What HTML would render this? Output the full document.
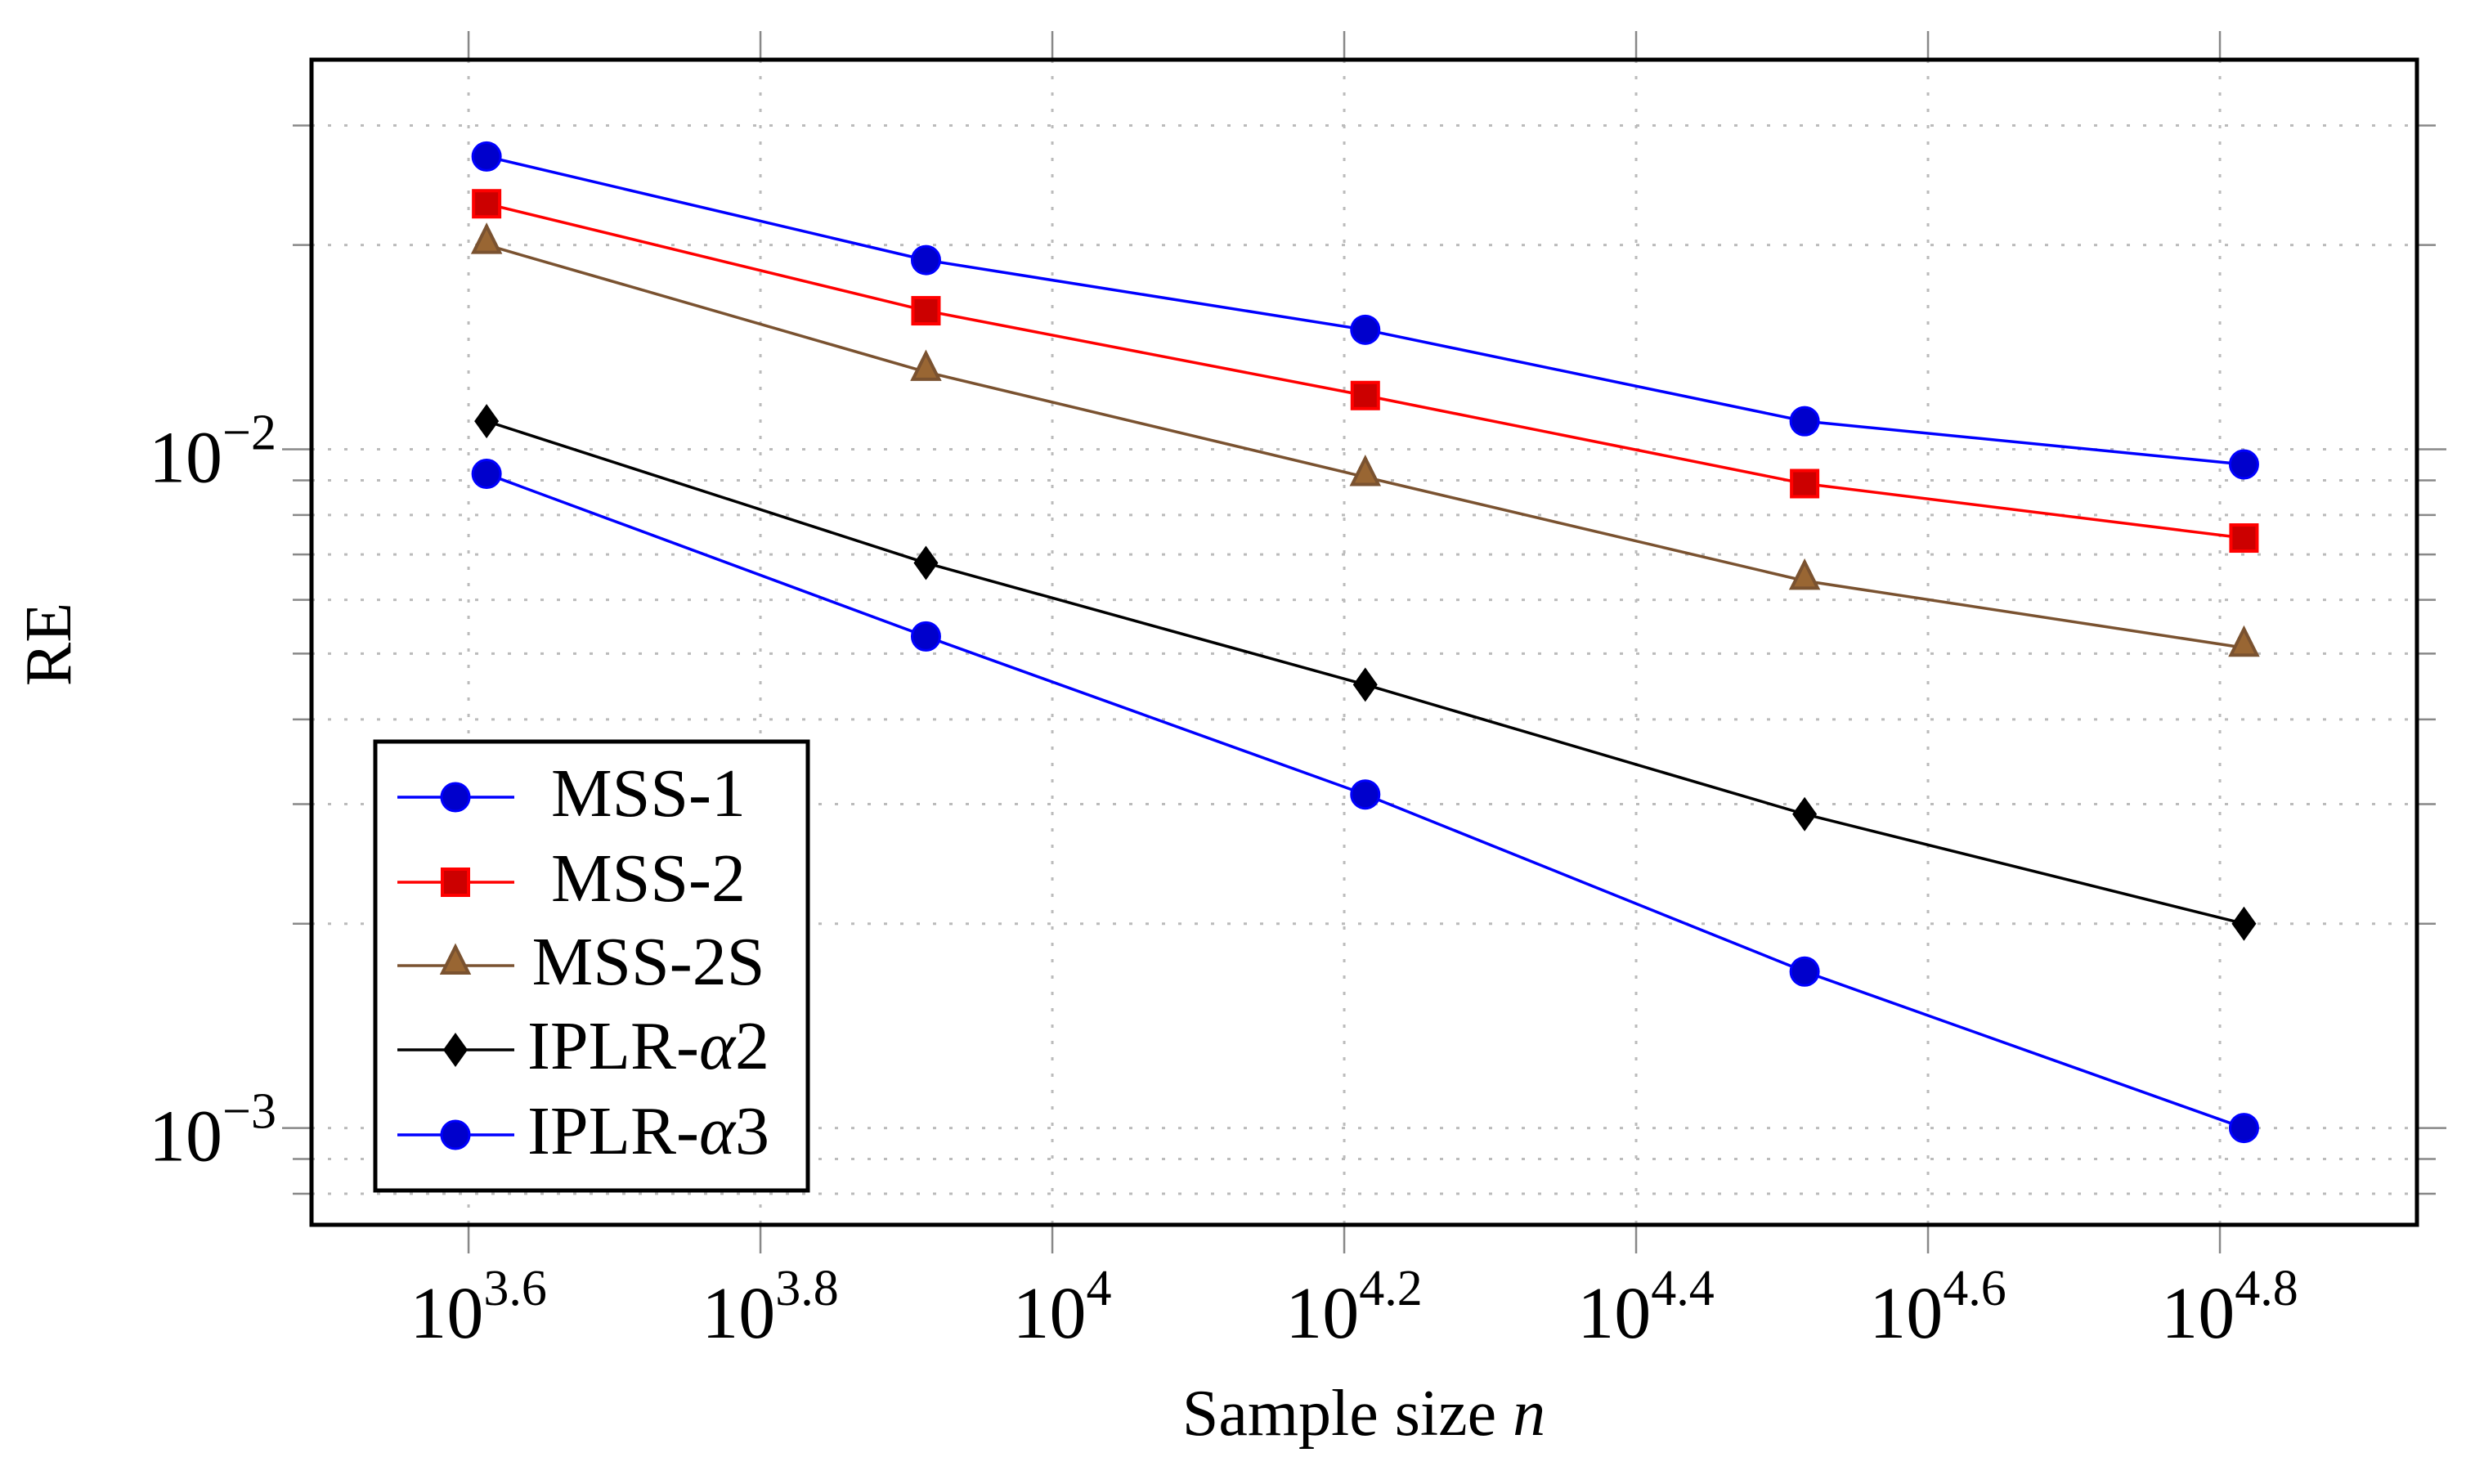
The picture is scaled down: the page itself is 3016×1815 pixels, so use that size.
<!DOCTYPE html>
<html><head><meta charset="utf-8"><style>
html,body{margin:0;padding:0;background:#fff;}
svg{display:block;font-family:"Liberation Serif",serif;}
</style></head><body>
<svg id="chart" width="3016" height="1815" viewBox="0 0 3016 1815" xmlns="http://www.w3.org/2000/svg">
<g id="grid"></g><g id="ticks"></g><g id="series"></g>
<rect x="381" y="73" width="2575" height="1425" fill="none" stroke="#000" stroke-width="5"/>
<g id="labels"></g><g id="legend"></g>
<text x="1668" y="1755" font-size="80" text-anchor="middle">Sample size <tspan font-style="italic">n</tspan></text>
<text x="0" y="0" font-size="80" text-anchor="middle" transform="translate(86,788) rotate(-90)">RE</text>
</svg>
<script>
const sampleSizes = [4096, 8192, 16384, 32768, 65536];
const seriesNames = ["MSS-1", "MSS-2", "MSS-2S", "IPLR-α2", "IPLR-α3"];
const mss1 = [0.027, 0.019, 0.015, 0.011, 0.0095];
const mss2 = [0.023, 0.016, 0.012, 0.0089, 0.0074];
const mss2s = [0.020, 0.013, 0.0091, 0.0064, 0.0051];
const iplr2 = [0.011, 0.0068, 0.0045, 0.0029, 0.0020];
const iplr3 = [0.0092, 0.0053, 0.0031, 0.0017, 0.0010];
const xTickExps = ["3.6", "3.8", "4", "4.2", "4.4", "4.6", "4.8"];
const yTickExps = ["-2", "-3"];

const NS = "http://www.w3.org/2000/svg";
const L=381,R=2956,T=73,B=1498;
const xmin=3.4924,xmax=4.935,ymin=Math.log10(7.2e-4),ymax=Math.log10(0.0375);
const xs=v=>L+(Math.log10(v)-xmin)/(xmax-xmin)*(R-L);
const xe=e=>L+(e-xmin)/(xmax-xmin)*(R-L);
const ys=v=>B-(Math.log10(v)-ymin)/(ymax-ymin)*(B-T);
function mk(tag,attrs,parent){const e=document.createElementNS(NS,tag);for(const k in attrs)e.setAttribute(k,attrs[k]);parent.appendChild(e);return e;}
const grid=document.getElementById('grid'),ticks=document.getElementById('ticks'),labels=document.getElementById('labels');
xTickExps.forEach(s=>{const x=xe(parseFloat(s));
 const g=mk('line',{x1:x,x2:x,y1:T,y2:B,stroke:'#bbb','stroke-width':3,'stroke-dasharray':'4 16'},grid);
 
 
 mk('line',{x1:x,x2:x,y1:T-35,y2:T,stroke:'#888','stroke-width':2.5},ticks);
 mk('line',{x1:x,x2:x,y1:B,y2:B+35,stroke:'#888','stroke-width':2.5},ticks);
 const t=mk('text',{x:x+12,y:1636,'font-size':90,'text-anchor':'middle'},labels);
 
 
 t.textContent='10';const sp=mk('tspan',{dy:-40,'font-size':62},t);sp.textContent=s;
});
for(let d=-4;d<=-1;d++){for(let m=1;m<=9;m++){const v=m*Math.pow(10,d);const y=ys(v);if(y<T+2||y>B-2)continue;
 const g=mk('line',{x1:L,x2:R,y1:y,y2:y,stroke:'#bbb','stroke-width':3,'stroke-dasharray':'4 16'},grid);
 
 
 const len=m===1?36:23;
 mk('line',{x1:L-len,x2:L,y1:y,y2:y,stroke:'#888','stroke-width':2.5},ticks);
 mk('line',{x1:R,x2:R+len,y1:y,y2:y,stroke:'#888','stroke-width':2.5},ticks);
}}
yTickExps.forEach(s=>{const y=ys(Math.pow(10,parseFloat(s)));
 const t=mk('text',{x:338,y:y+40,'font-size':90,'text-anchor':'end'},labels);
 
 
 t.textContent='10';const sp=mk('tspan',{dy:-40,'font-size':62},t);sp.textContent=s.replace('-','−');
});
const styles=[
 {line:'#0000ff',fill:'#0000cc',stroke:'#0000ff',shape:'circle'},
 {line:'#ff0000',fill:'#cc0000',stroke:'#ff0000',shape:'square'},
 {line:'#7a5230',fill:'#996633',stroke:'#7a5230',shape:'triangle'},
 {line:'#000000',fill:'#000000',stroke:'#000000',shape:'diamond'},
 {line:'#0000ff',fill:'#0000cc',stroke:'#0000ff',shape:'circle'}];
function marker(p,x,y,st){let e;
 if(st.shape==='circle')e=mk('circle',{cx:x,cy:y,r:17,fill:st.fill,stroke:st.stroke,'stroke-width':3},p);
 else if(st.shape==='square')e=mk('rect',{x:x-16,y:y-16,width:32,height:32,fill:st.fill,stroke:st.stroke,'stroke-width':4},p);
 else if(st.shape==='triangle')e=mk('polygon',{points:`${x},${y-23} ${x-16},${y+9} ${x+16},${y+9}`,fill:st.fill,stroke:st.stroke,'stroke-width':4},p);
 else e=mk('polygon',{points:`${x},${y-21} ${x+15},${y} ${x},${y+21} ${x-15},${y}`,fill:st.fill},p);
 return e;}
const all=[mss1,mss2,mss2s,iplr2,iplr3];
const sg=document.getElementById('series');
all.forEach((vals,i)=>{const st=styles[i];
 const g=mk('g',{},sg);
 
 
 const pts=vals.map((v,j)=>xs(sampleSizes[j])+','+ys(v)).join(' ');
 const pl=mk('polyline',{points:pts,fill:'none',stroke:st.line,'stroke-width':3.5},g);
 
 
 vals.forEach((v,j)=>{const m=marker(g,xs(sampleSizes[j]),ys(v),st);
  
  });
});
const lg=document.getElementById('legend');
mk('rect',{x:459,y:907,width:529,height:549,fill:'#fff',stroke:'#000','stroke-width':5},lg);
const entryY=[975,1079,1181,1284,1388];
seriesNames.forEach((name,i)=>{const st=styles[i],y=entryY[i];
 const g=mk('g',{},lg);
 
 
 mk('line',{x1:486,x2:629,y1:y,y2:y,stroke:st.line,'stroke-width':3.5},g);
 marker(g,557,y,st);
 const t=mk('text',{x:793,y:y+23,'font-size':84,'text-anchor':'middle'},g);
 if(name.indexOf('α')>=0){t.textContent='IPLR-';const a=mk('tspan',{'font-style':'italic'},t);a.textContent='α';const n=mk('tspan',{},t);n.textContent=name.slice(-1);}
 else t.textContent=name;
});
</script>
</body></html>
